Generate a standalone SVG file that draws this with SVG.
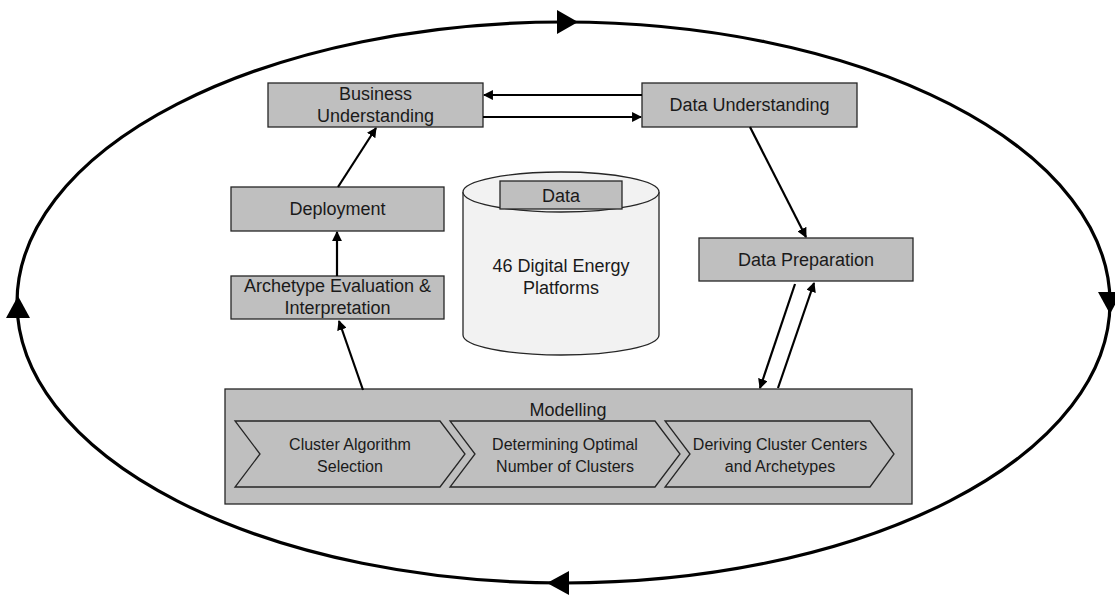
<svg xmlns="http://www.w3.org/2000/svg" width="1115" height="598" viewBox="0 0 1115 598">
<style>
.box{fill:#bfbfbf;stroke:#262626;stroke-width:1.3}
.t{font-family:"Liberation Sans",Arial,sans-serif;font-size:18px;fill:#1a1a1a;text-anchor:middle}
.ts{font-family:"Liberation Sans",Arial,sans-serif;font-size:16px;fill:#1a1a1a;text-anchor:middle}
.c{fill:none;stroke:#000;stroke-width:2.2}
.cyc{fill:none;stroke:#000;stroke-width:3.2}
.ah{fill:#000}
</style>
<defs>
<marker id="arr" viewBox="0 0 10 10" refX="9" refY="5" markerWidth="4.5" markerHeight="4.5" orient="auto" markerUnits="strokeWidth">
<path d="M0,0 L10,5 L0,10 z" fill="#000"/>
</marker>
</defs>
<g id="cycle">
<ellipse class="cyc" cx="563.5" cy="302.5" rx="546.5" ry="280.5"/>
<polygon class="ah" points="578,22 557,10 557,34"/>
<polygon class="ah" points="1110,314 1098,292 1122,292"/>
<polygon class="ah" points="547,583 569,571 569,595"/>
<polygon class="ah" points="18,296 6,318 30,318"/>
</g>
<g id="business">
<rect class="box" x="268" y="83" width="215" height="44"/>
<text class="t" x="375.5" y="100">Business</text>
<text class="t" x="375.5" y="122">Understanding</text>
</g>
<g id="dataunderstanding">
<rect class="box" x="642" y="83" width="215" height="44"/>
<text class="t" x="749.5" y="111">Data Understanding</text>
</g>
<g id="deployment">
<rect class="box" x="231" y="187" width="213" height="44"/>
<text class="t" x="337.5" y="215">Deployment</text>
</g>
<g id="archetype">
<rect class="box" x="231" y="276" width="213" height="43"/>
<text class="t" x="337.5" y="292">Archetype Evaluation &amp;</text>
<text class="t" x="337.5" y="314">Interpretation</text>
</g>
<g id="datapreparation">
<rect class="box" x="699" y="238" width="214" height="43"/>
<text class="t" x="806" y="266">Data Preparation</text>
</g>
<g id="data">
<path d="M463,192 L463,335 A98,20 0 0 0 659,335 L659,192" fill="#f2f2f2" stroke="#262626" stroke-width="1.3"/>
<ellipse cx="561" cy="192" rx="98" ry="20" fill="#f2f2f2" stroke="#262626" stroke-width="1.3"/>
<rect class="box" x="500" y="181" width="122" height="28"/>
<text class="t" x="561" y="202">Data</text>
<text class="t" x="561" y="272">46 Digital Energy</text>
<text class="t" x="561" y="294">Platforms</text>
</g>
<g id="modelling">
<rect class="box" x="225" y="389" width="687" height="115"/>
<text class="t" x="568" y="416">Modelling</text>
<polygon class="box" points="235,421 440,421 465,454 440,487 235,487 260,454"/>
<text class="ts" x="350" y="450">Cluster Algorithm</text>
<text class="ts" x="350" y="472">Selection</text>
<polygon class="box" points="450,421 655,421 680,454 655,487 450,487 475,454"/>
<text class="ts" x="565" y="450">Determining Optimal</text>
<text class="ts" x="565" y="472">Number of Clusters</text>
<polygon class="box" points="665,421 870,421 894,454 870,487 665,487 690,454"/>
<text class="ts" x="780" y="450">Deriving Cluster Centers</text>
<text class="ts" x="780" y="472">and Archetypes</text>
</g>
<g id="connectors">
<line class="c" x1="642" y1="95" x2="484" y2="95" marker-end="url(#arr)"/>
<line class="c" x1="483" y1="117" x2="641" y2="117" marker-end="url(#arr)"/>
<line class="c" x1="338" y1="187" x2="376" y2="128" marker-end="url(#arr)"/>
<line class="c" x1="337" y1="276" x2="337" y2="232" marker-end="url(#arr)"/>
<line class="c" x1="363" y1="390" x2="339" y2="321" marker-end="url(#arr)"/>
<line class="c" x1="750" y1="127" x2="806" y2="237" marker-end="url(#arr)"/>
<line class="c" x1="795" y1="284" x2="760" y2="388" marker-end="url(#arr)"/>
<line class="c" x1="778" y1="388" x2="814" y2="283" marker-end="url(#arr)"/>
</g>
</svg>
